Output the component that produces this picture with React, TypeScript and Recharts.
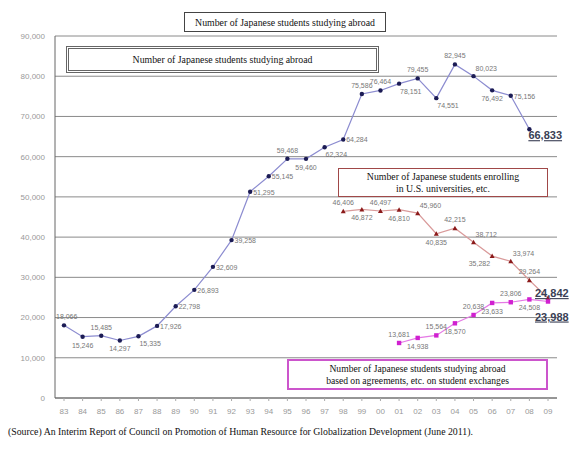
import React from 'react';
import { ComposedChart, Line, XAxis, YAxis, CartesianGrid } from 'recharts';

const years = ['83', '84', '85', '86', '87', '88', '89', '90', '91', '92', '93', '94', '95', '96', '97', '98', '99', '00', '01', '02', '03', '04', '05', '06', '07', '08', '09'];

// Japanese students studying abroad (83 - 08)
const abroad = [18066, 15246, 15485, 14297, 15335, 17926, 22798, 26893, 32609, 39258, 51295, 55145, 59468, 59460, 62324, 64284, 75586, 76464, 78151, 79455, 74551, 82945, 80023, 76492, 75156, 66833];
// enrolled in U.S. universities (98 - 09)
const usEnroll = [46406, 46872, 46497, 46810, 45960, 40835, 42215, 38712, 35282, 33974, 29264, 24842];
// on student exchange agreements (01 - 09)
const exchange = [13681, 14938, 15564, 18570, 20638, 23633, 23806, 24508, 23988];

const yTicks = [0, 10000, 20000, 30000, 40000, 50000, 60000, 70000, 80000, 90000];

// label placement per point
const abroadPos = ['as', 'b', 'a', 'b', 'br', 'r', 'r', 'r', 'r', 'r', 'r', 'r', 'a', 'b', 'br', 'r', 'a', 'a', 'br', 'a', 'br', 'a', 'ar', 'b', 'r', 'Br'];
const usPos = ['a', 'b', 'a', 'b', 'ar', 'b', 'a', 'ar', 'bl', 'ar', 'a', 'Ba'];
const exchPos = ['a', 'b', 'a', 'b', 'a', 'b', 'a', 'b', 'Bb'];

const usStart = years.indexOf('98');
const exchStart = years.indexOf('01');

const data = years.map((y, i) => ({
    year: y,
    abroad: i < abroad.length ? abroad[i] : null,
    us: i >= usStart ? usEnroll[i - usStart] : null,
    exch: i >= exchStart ? exchange[i - exchStart] : null,
}));

const PLACE: Record<string, { dx: number; dy: number; anchor: string; big?: boolean }> = {
    a: { dx: 0, dy: -6, anchor: 'middle' },
    as: { dx: -8, dy: -6, anchor: 'start' },
    b: { dx: 0, dy: 11, anchor: 'middle' },
    r: { dx: 3, dy: 3, anchor: 'start' },
    ar: { dx: 2, dy: -5, anchor: 'start' },
    br: { dx: 1, dy: 10, anchor: 'start' },
    al: { dx: -2, dy: -5, anchor: 'end' },
    bl: { dx: -2, dy: 10, anchor: 'end' },
    Br: { dx: -1, dy: 10, anchor: 'start', big: true },
    Ba: { dx: -13, dy: -1, anchor: 'start', big: true },
    Bb: { dx: -13, dy: 19, anchor: 'start', big: true },
};

const makeDot = (places: string[], start: number, shape: 'circle' | 'tri' | 'square', color: string) => (props: any) => {
    const { cx, cy, index, value } = props;
    if (cx == null || cy == null || value == null) return <g key={`d-${index}`} />;
    const p = PLACE[places[index - start]] || PLACE.a;
    let marker;
    if (shape === 'circle') marker = <circle cx={cx} cy={cy} r={2.2} fill={color} />;
    else if (shape === 'tri') marker = <path d={`M${cx},${cy - 2.5}L${cx + 2.5},${cy + 2}L${cx - 2.5},${cy + 2}Z`} fill={color} />;
    else marker = <rect x={cx - 2.2} y={cy - 2.2} width={4.4} height={4.4} fill={color} />;
    return (
        <g key={`d-${index}`}>
            {marker}
            <text
                x={cx + p.dx}
                y={cy + p.dy}
                textAnchor={p.anchor as any}
                fontFamily="Arial, 'Liberation Sans', sans-serif"
                fontSize={p.big ? 11 : 7}
                fontWeight={p.big ? 'bold' : 'normal'}
                fill={p.big ? '#3a3f55' : '#777'}
                textDecoration={p.big ? 'underline' : undefined}
            >
                {Number(value).toLocaleString('en-US')}
            </text>
        </g>
    );
};

const serif = "'Liberation Serif', 'Times New Roman', serif";

const boxBase: React.CSSProperties = {
    position: 'absolute',
    boxSizing: 'border-box',
    background: '#fff',
    fontFamily: serif,
    color: '#111',
    textAlign: 'center',
    display: 'flex',
    alignItems: 'center',
    justifyContent: 'center',
};

export default function App() {
    return (
        <div style={{ position: 'absolute', left: 0, top: 0, width: 572, height: 449, background: '#fff', overflow: 'hidden' }}>
            <ComposedChart width={572} height={449} data={data} margin={{ top: 36, right: 15, left: 0, bottom: 21 }}>
                <CartesianGrid vertical={false} stroke="#8a8a8a" />
                <XAxis
                    dataKey="year"
                    height={30}
                    padding={{ left: 9, right: 9 }}
                    tick={{ fontSize: 8, fill: '#999', fontFamily: 'Arial, sans-serif' }}
                    tickSize={3}
                    tickMargin={7}
                    tickLine={{ stroke: '#aaa' }}
                    axisLine={{ stroke: '#666' }}
                    interval={0}
                />
                <YAxis
                    domain={[0, 90000]}
                    ticks={yTicks}
                    width={55}
                    tickSize={0}
                    tickMargin={10}
                    tick={{ fontSize: 8, fill: '#999', fontFamily: 'Arial, sans-serif' }}
                    tickFormatter={(v: number) => v.toLocaleString('en-US')}
                    axisLine={{ stroke: '#666' }}
                />
                <YAxis yAxisId="right" orientation="right" width={0} tick={false} axisLine={{ stroke: '#888' }} />
                <Line
                    dataKey="abroad"
                    stroke="#8c8cd0"
                    strokeWidth={1.2}
                    dot={makeDot(abroadPos, 0, 'circle', '#1c1c55')}
                    isAnimationActive={false}
                    connectNulls={false}
                />
                <Line
                    dataKey="us"
                    stroke="#d99a9a"
                    strokeWidth={1.2}
                    dot={makeDot(usPos, usStart, 'tri', '#8b1a1a')}
                    isAnimationActive={false}
                />
                <Line
                    dataKey="exch"
                    stroke="#e57ae5"
                    strokeWidth={1.2}
                    dot={makeDot(exchPos, exchStart, 'square', '#d020d0')}
                    isAnimationActive={false}
                />
            </ComposedChart>

            <div style={{ ...boxBase, left: 184, top: 12, width: 202, height: 20, border: '1px solid #444', fontSize: 9.8 }}>
                Number of Japanese students studying abroad
            </div>
            <div style={{ ...boxBase, left: 66, top: 46, width: 313, height: 27, border: '3px double #666', fontSize: 9.8 }}>
                Number of Japanese students studying abroad
            </div>
            <div style={{ ...boxBase, left: 338, top: 168, width: 210, height: 29, border: '1px solid #a04848', fontSize: 9.8, lineHeight: '12px' }}>
                Number of Japanese students enrolling<br />in U.S. universities, etc.
            </div>
            <div style={{ ...boxBase, left: 287, top: 359, width: 261, height: 31, border: '2px solid #cc55cc', fontSize: 9.6, lineHeight: '12px' }}>
                Number of Japanese students studying abroad<br />based on agreements, etc. on student exchanges
            </div>
            <div style={{ position: 'absolute', left: 8, top: 426, fontFamily: serif, fontSize: 9.8, color: '#111', whiteSpace: 'nowrap' }}>
                (Source) An Interim Report of Council on Promotion of Human Resource for Globalization Development (June 2011).
            </div>
        </div>
    );
}
